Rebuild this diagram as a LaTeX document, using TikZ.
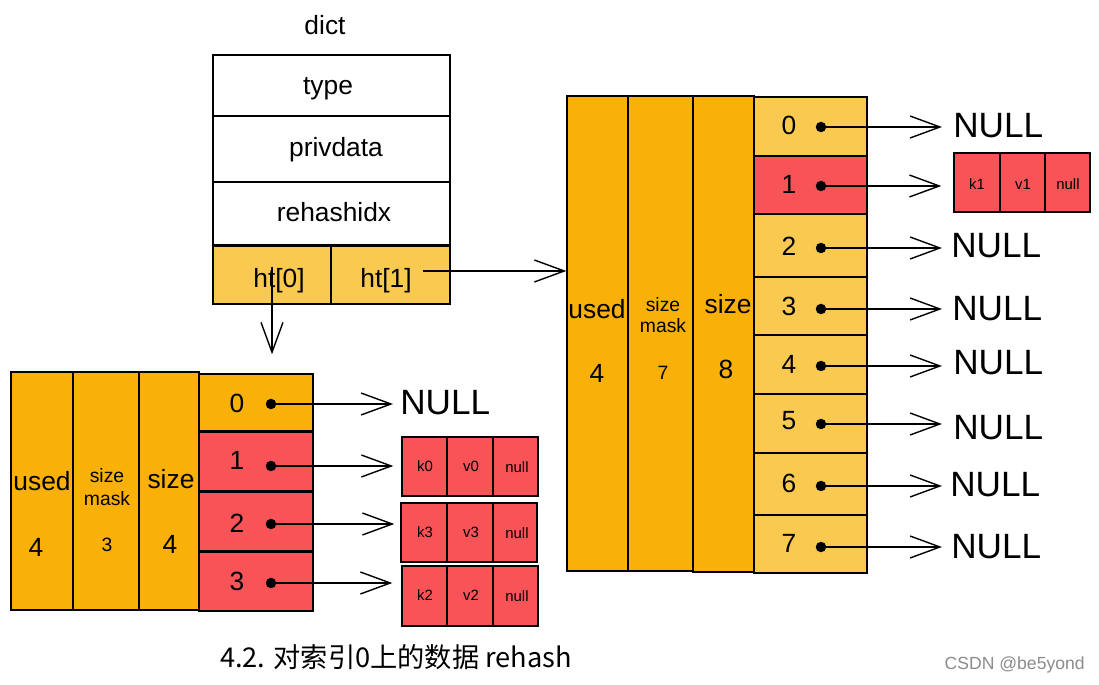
\documentclass[tikz,border=0pt]{standalone}
\usepackage{fontspec}
\setmainfont{Liberation Sans}
\newfontfamily\cjkfont{Noto Sans CJK SC}
\usetikzlibrary{arrows.meta,fit}

\definecolor{deeporange}{HTML}{F9B008}
\definecolor{softorange}{HTML}{FAC94F}
\definecolor{slotred}{HTML}{F85458}

\tikzset{
  cell/.style={draw=black, line width=0.8pt, inner sep=0pt},
  lbl/.style={inner sep=0pt, anchor=base, font=\fontsize{15}{18}\selectfont},
  smalllbl/.style={inner sep=0pt, anchor=base, font=\fontsize{11}{13}\selectfont},
  kvtxt/.style={inner sep=0pt, anchor=base, font=\fontsize{8.5}{10}\selectfont},
  nulltxt/.style={inner sep=0pt, anchor=base west, font=\fontsize{20}{24}\selectfont},
  dotc/.style={circle, fill=black, inner sep=0pt, minimum size=0.21cm},
  ptr/.style={line width=0.8pt, -{Straight Barb[length=17pt,width=12.5pt]}},
}

\begin{document}
\begin{tikzpicture}[x=0.02cm, y=-0.02cm]
\fill[white] (0,0) rectangle (1099,685);
\useasboundingbox (0,0) rectangle (1099,685);

% ---- dict structure ----
\node[lbl] (tdict) at (325,35) {dict};
\node[cell, fill=white, fit={(213,55) (450,116)}] (dtype) {};
\node[cell, fill=white, fit={(213,116) (450,182)}] (dpriv) {};
\node[cell, fill=white, fit={(213,182) (450,245)}] (drehash) {};
\node[cell, fill=softorange, fit={(213,246) (331,304)}] (dht0) {};
\node[cell, fill=softorange, fit={(331,246) (450,304)}] (dht1) {};
\node[lbl] (ttype) at (328,95) {type};
\node[lbl] (tpriv) at (336,157) {privdata};
\node[lbl] (trehash) at (334,222) {rehashidx};
\node[lbl] (tht0) at (279,288) {ht[0]};
\node[lbl] (tht1) at (386,288) {ht[1]};

% ---- ht[0]: table of size 4 ----
\node[cell, fill=deeporange, fit={(11,372) (73,610)}] (lused) {};
\node[cell, fill=deeporange, fit={(73,372) (139,610)}] (lmask) {};
\node[cell, fill=deeporange, fit={(139,372) (199,610)}] (lsize) {};
\node[cell, fill=deeporange, fit={(199,374) (313,431)}] (lb0) {};
\node[cell, fill=slotred, fit={(199,432) (313,491)}] (lb1) {};
\node[cell, fill=slotred, fit={(199,492) (313,551)}] (lb2) {};
\node[cell, fill=slotred, fit={(199,552) (313,611)}] (lb3) {};

\node[lbl] (tlused) at (42,491) {used};
\node[lbl] (tlusedv) at (36,557) {4};
\node[smalllbl] (tlmaska) at (107,483) {size};
\node[smalllbl] (tlmaskb) at (107,506) {mask};
\node[smalllbl] (tlmaskv) at (107,552) {3};
\node[lbl] (tlsize) at (171,489) {size};
\node[lbl] (tlsizev) at (170,554) {4};

\node[lbl] (tlb0) at (237,413) {0};
\node[lbl] (tlb1) at (237,470) {1};
\node[lbl] (tlb2) at (237,533) {2};
\node[lbl] (tlb3) at (237,591) {3};

\node[dotc] (ldot0) at (271,404) {};
\node[dotc] (ldot1) at (271,466) {};
\node[dotc] (ldot2) at (271,524) {};
\node[dotc] (ldot3) at (271,583) {};

\node[nulltxt] (lnull0) at (400,415) {NULL};

% key / value / next entries hanging off ht[0]
\node[cell, fill=slotred, fit={(402,437) (447,496)}] (lk0) {};
\node[cell, fill=slotred, fit={(447,437) (493,496)}] (lv0) {};
\node[cell, fill=slotred, fit={(493,437) (538,496)}] (ln0) {};
\node[cell, fill=slotred, fit={(401,503) (447,562)}] (lk3) {};
\node[cell, fill=slotred, fit={(447,503) (493,562)}] (lv3) {};
\node[cell, fill=slotred, fit={(493,503) (537,562)}] (ln3) {};
\node[cell, fill=slotred, fit={(402,566) (447,626)}] (lk2) {};
\node[cell, fill=slotred, fit={(447,566) (493,626)}] (lv2) {};
\node[cell, fill=slotred, fit={(493,566) (538,626)}] (ln2) {};
\node[kvtxt] (tlk0) at (425,472) {k0};
\node[kvtxt] (tlv0) at (471,472) {v0};
\node[kvtxt] (tln0) at (517,473) {null};
\node[kvtxt] (tlk3) at (425,538) {k3};
\node[kvtxt] (tlv3) at (471,538) {v3};
\node[kvtxt] (tln3) at (517,539) {null};
\node[kvtxt] (tlk2) at (425,601) {k2};
\node[kvtxt] (tlv2) at (471,601) {v2};
\node[kvtxt] (tln2) at (517,602) {null};

\draw[ptr, shorten >=0.14cm] (ldot0.center) -- (lnull0.west |- ldot0);
\draw[ptr, shorten >=0.16cm] (ldot1.center) -- (lk0.west |- ldot1);
\draw[ptr, shorten >=0.12cm] (ldot2.center) -- (lk3.west |- ldot2);
\draw[ptr, shorten >=0.18cm] (ldot3.center) -- (lk2.west |- ldot3);

% ---- ht[1]: table of size 8 ----
\node[cell, fill=deeporange, fit={(567,96) (628,571)}] (rused) {};
\node[cell, fill=deeporange, fit={(628,96) (693,571)}] (rmask) {};
\node[cell, fill=deeporange, fit={(693,96) (754,572)}] (rsize) {};
\node[cell, fill=softorange, fit={(754,97) (867,156)}] (rb0) {};
\node[cell, fill=slotred, fit={(754,156) (867,214)}] (rb1) {};
\node[cell, fill=softorange, fit={(754,214) (867,277)}] (rb2) {};
\node[cell, fill=softorange, fit={(754,277) (867,335)}] (rb3) {};
\node[cell, fill=softorange, fit={(754,335) (867,394)}] (rb4) {};
\node[cell, fill=softorange, fit={(754,394) (867,453)}] (rb5) {};
\node[cell, fill=softorange, fit={(754,453) (867,515)}] (rb6) {};
\node[cell, fill=softorange, fit={(754,515) (867,573)}] (rb7) {};

\node[lbl] (trused) at (597,319) {used};
\node[lbl] (trusedv) at (597,383) {4};
\node[smalllbl] (trmaska) at (663,312) {size};
\node[smalllbl] (trmaskb) at (663,333) {mask};
\node[smalllbl] (trmaskv) at (663,380) {7};
\node[lbl] (trsize) at (728,314) {size};
\node[lbl] (trsizev) at (726,379) {8};

\node[lbl] (trb0) at (789,135) {0};
\node[lbl] (trb1) at (789,194) {1};
\node[lbl] (trb2) at (789,256) {2};
\node[lbl] (trb3) at (789,316) {3};
\node[lbl] (trb4) at (789,374) {4};
\node[lbl] (trb5) at (789,430) {5};
\node[lbl] (trb6) at (789,493) {6};
\node[lbl] (trb7) at (789,553) {7};

\node[dotc] (rdot0) at (821,127) {};
\node[dotc] (rdot1) at (821,186) {};
\node[dotc] (rdot2) at (821,248) {};
\node[dotc] (rdot3) at (821,309) {};
\node[dotc] (rdot4) at (821,366) {};
\node[dotc] (rdot5) at (821,424) {};
\node[dotc] (rdot6) at (821,486) {};
\node[dotc] (rdot7) at (821,547) {};

\node[nulltxt] (rnull0) at (953,138) {NULL};
\node[nulltxt] (rnull2) at (951,258) {NULL};
\node[nulltxt] (rnull3) at (952,321) {NULL};
\node[nulltxt] (rnull4) at (953,375) {NULL};
\node[nulltxt] (rnull5) at (953,440) {NULL};
\node[nulltxt] (rnull6) at (950,497) {NULL};
\node[nulltxt] (rnull7) at (951,559) {NULL};

% entry hanging off slot 1 of ht[1]
\node[cell, fill=slotred, fit={(954,153) (1000,212)}] (rk1) {};
\node[cell, fill=slotred, fit={(1000,153) (1045,212)}] (rv1) {};
\node[cell, fill=slotred, fit={(1045,153) (1090,212)}] (rn1) {};
\node[kvtxt] (trk1) at (977,190) {k1};
\node[kvtxt] (trv1) at (1023,190) {v1};
\node[kvtxt] (trn1) at (1068,190) {null};

\draw[ptr, shorten >=0.22cm] (rdot0.center) -- (rnull0.west |- rdot0);
\draw[ptr, shorten >=0.24cm] (rdot1.center) -- (rk1.west |- rdot1);
\draw[ptr, shorten >=0.18cm] (rdot2.center) -- (rnull2.west |- rdot2);
\draw[ptr, shorten >=0.20cm] (rdot3.center) -- (rnull3.west |- rdot3);
\draw[ptr, shorten >=0.22cm] (rdot4.center) -- (rnull4.west |- rdot4);
\draw[ptr, shorten >=0.22cm] (rdot5.center) -- (rnull5.west |- rdot5);
\draw[ptr, shorten >=0.16cm] (rdot6.center) -- (rnull6.west |- rdot6);
\draw[ptr, shorten >=0.18cm] (rdot7.center) -- (rnull7.west |- rdot7);

% ---- pointers from the dict to its two tables ----
\coordinate (ht0src) at (272,267);
\coordinate (ht1src) at (423,271);
\draw[ptr, shorten >=0.34cm] (ht0src) -- (ht0src |- lused.north);
\draw[ptr] (ht1src) -- (ht1src -| rused.west);

% ---- caption and credit ----
\node[inner sep=0pt, anchor=base, font=\cjkfont\fontsize{15.5}{18}\selectfont] (caption) at (396,667) {4.2. 对索引0上的数据 rehash};
\node[inner sep=0pt, anchor=base east, font=\fontsize{10}{12}\selectfont, text=black!45] (credit) at (1085,669) {CSDN @be5yond};
\end{tikzpicture}
\end{document}
